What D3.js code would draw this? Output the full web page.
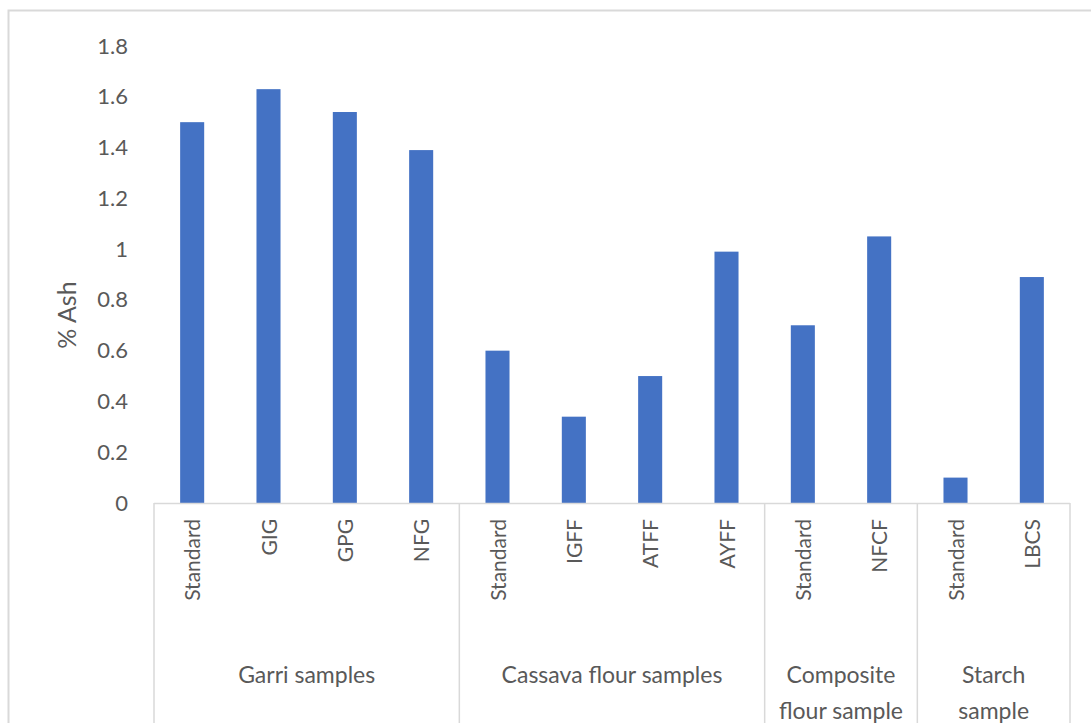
<!DOCTYPE html>
<html>
<head>
<meta charset="utf-8">
<script src="https://cdn.jsdelivr.net/npm/d3@7"></script>
<style>
  body { margin: 0; background: #fff; }
  text { font-family: Lato, "Open Sans", sans-serif; fill: #595959; }
</style>
</head>
<body>
<svg id="AshChart"></svg>
<script>
// sample names along the axis
var samples = ["Standard","GIG","GPG","NFG",
               "Standard","IGFF","ATFF","AYFF",
               "Standard","NFCF",
               "Standard","LBCS"];
// % ash for each sample
var ashValues = [1.5,1.63,1.54,1.39, 0.6,0.34,0.5,0.99, 0.7,1.05, 0.1,0.89];
// groups and how many samples sit in each
var groupNames = [["Garri samples"],["Cassava flour samples"],["Composite","flour sample"],["Starch","sample"]];
var groupSizes = [4,4,2,2];
var yTicks = [0,0.2,0.4,0.6,0.8,1,1.2,1.4,1.6,1.8];

var screen = {width:1091, height:723};
var margins = {left:154, right:21, top:46, bottom:220};
var graph = {
    width: screen.width-margins.left-margins.right,
    height: screen.height-margins.top-margins.bottom
};

var svg = d3.select("#AshChart")
    .attr("width",screen.width)
    .attr("height",screen.height);

// outer chart border (only top and left show)
svg.append("rect")
    .attr("x",8.5).attr("y",10.5)
    .attr("width",1100).attr("height",800)
    .attr("fill","none")
    .attr("stroke","#d9d9d9")
    .attr("stroke-width",2);

var target = svg.append("g")
    .attr("transform","translate("+margins.left+","+margins.top+")");

var ids = samples.map(function(d,i){ return i; });

var xScale = d3.scaleBand()
    .domain(ids)
    .range([0,graph.width])
    .paddingInner(0.685)
    .paddingOuter(0.3425);

var yScale = d3.scaleLinear()
    .domain([0,1.8])
    .range([graph.height,0]);

// y axis labels only
var yAxis = d3.axisLeft(yScale)
    .tickValues(yTicks)
    .tickFormat(function(d){ return d3.format("")(+d.toFixed(1)); })
    .tickSize(0)
    .tickPadding(26);

target.append("g")
    .call(yAxis)
    .call(function(g){ g.select(".domain").remove(); })
    .selectAll("text")
    .style("font-size","22px")
    .attr("fill","#595959");

// bars
target.selectAll("rect.bar")
    .data(ashValues)
    .enter()
    .append("rect")
    .classed("bar",true)
    .attr("x",function(d,i){ return xScale(i); })
    .attr("y",function(d){ return yScale(d); })
    .attr("width",xScale.bandwidth())
    .attr("height",function(d){ return graph.height-yScale(d); })
    .attr("fill","#4472c4");

// category axis line
target.append("line")
    .attr("x1",0).attr("x2",graph.width)
    .attr("y1",graph.height+0.5).attr("y2",graph.height+0.5)
    .attr("stroke","#d9d9d9")
    .attr("stroke-width",1.5);

// sample labels, rotated
var step = xScale.step();
target.selectAll("text.sample")
    .data(samples)
    .enter()
    .append("text")
    .classed("sample",true)
    .attr("transform",function(d,i){
        return "translate("+(xScale(i)+xScale.bandwidth()/2+8)+","+(graph.height+16)+") rotate(-90)";
    })
    .attr("text-anchor","end")
    .style("font-size","21px")
    .text(function(d){ return d; });

// group dividers and labels
var start = 0;
var bounds = [0];
groupSizes.forEach(function(n){ start += n; bounds.push(start); });

target.selectAll("line.divider")
    .data(bounds)
    .enter()
    .append("line")
    .classed("divider",true)
    .attr("x1",function(d){ return d*step; })
    .attr("x2",function(d){ return d*step; })
    .attr("y1",graph.height)
    .attr("y2",screen.height)
    .attr("stroke","#d9d9d9")
    .attr("stroke-width",1.5);

groupNames.forEach(function(lines,gi){
    var cx = (bounds[gi]+bounds[gi+1])/2*step;
    var t = target.append("text")
        .attr("text-anchor","middle")
        .attr("x",cx)
        .attr("y",graph.height+180)
        .style("font-size","23px");
    lines.forEach(function(line,li){
        t.append("tspan")
            .attr("x",cx)
            .attr("dy",li==0 ? 0 : 36)
            .text(line);
    });
});

// y axis title
svg.append("g")
    .attr("transform","translate(76,315)")
    .append("text")
    .attr("text-anchor","middle")
    .attr("transform","rotate(-90)")
    .style("font-size","25px")
    .text("% Ash");
</script>
</body>
</html>
